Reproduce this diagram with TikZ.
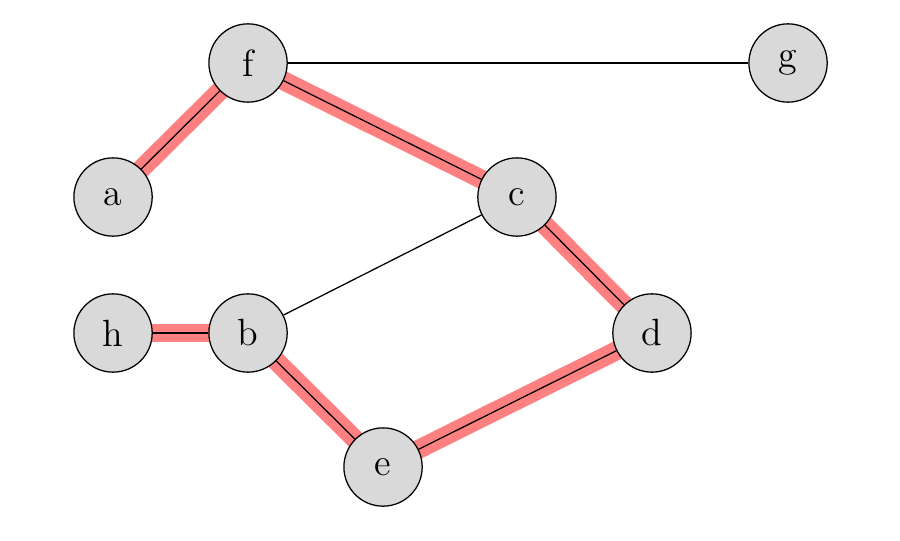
\documentclass[tikz,border=0pt]{standalone}
\usetikzlibrary{backgrounds}

\begin{document}
\begin{tikzpicture}[
        vertex/.style = {circle, draw, fill = gray!30, minimum size = 0.87cm, inner sep = 0pt, font = \large},
        marked/.style = {line width = 6pt, red!50},
    ]
        \useasboundingbox (0.0, 0.0) rectangle (10.0, 6.0);

        \node [vertex] (f) at (2.756, 5.3) {f};
        \node [vertex] (g) at (8.756, 5.3) {g};
        \node [vertex] (a) at (1.256, 3.811) {a};
        \node [vertex] (c) at (5.744, 3.811) {c};
        \node [vertex] (h) at (1.256, 2.3) {h};
        \node [vertex] (b) at (2.756, 2.3) {b};
        \node [vertex] (d) at (7.244, 2.3) {d};
        \node [vertex] (e) at (4.256, 0.811) {e};

        \begin{pgfonlayer}{background}
            \fill [white] (0.0, 0.0) rectangle (10.0, 6.0);
            \draw [marked] (a.center) -- (f.center);
            \draw [marked] (f.center) -- (c.center);
            \draw [marked] (c.center) -- (d.center);
            \draw [marked] (d.center) -- (e.center);
            \draw [marked] (e.center) -- (b.center);
            \draw [marked] (b.center) -- (h.center);
        \end{pgfonlayer}

        \draw (a) -- (f);
        \draw (f) -- (c);
        \draw (c) -- (d);
        \draw (d) -- (e);
        \draw (e) -- (b);
        \draw (b) -- (h);

        \draw (f) -- (g);
        \draw (b) -- (c);
    \end{tikzpicture}
\end{document}
